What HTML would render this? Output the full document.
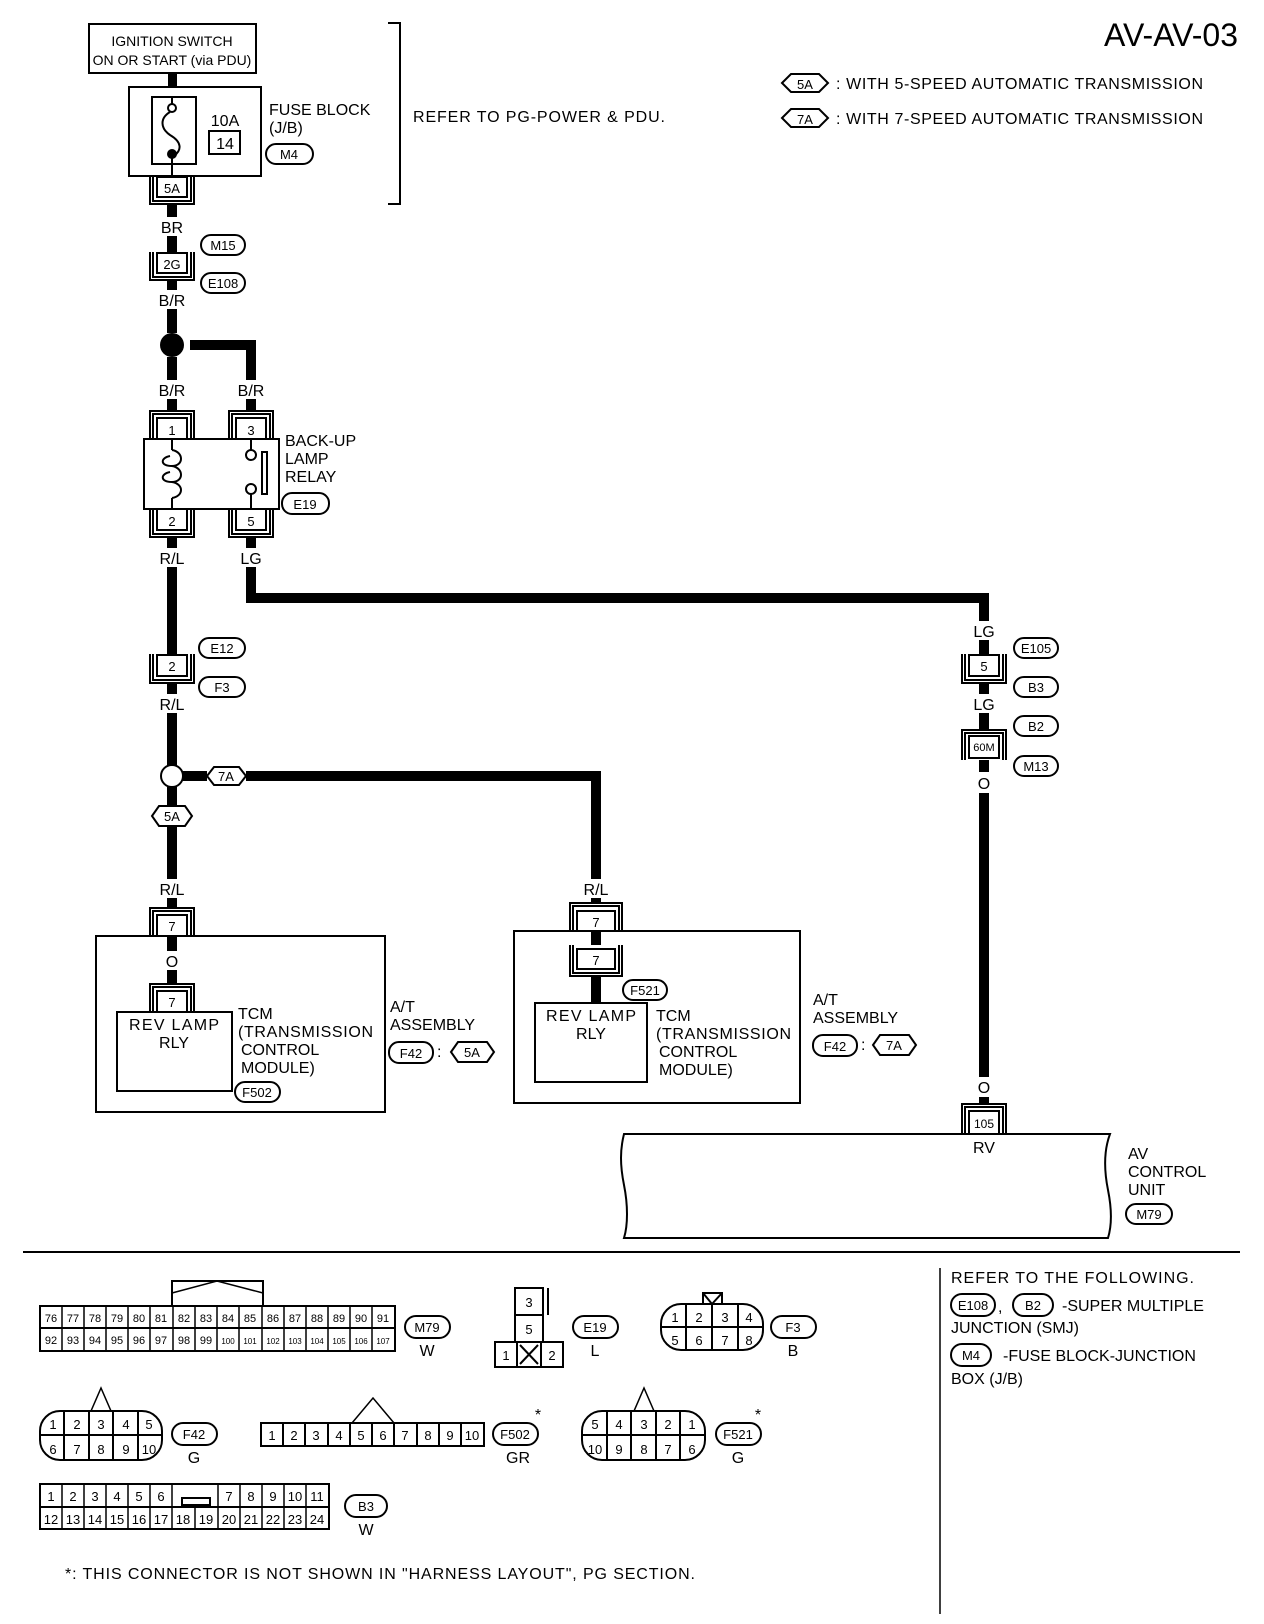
<!DOCTYPE html>
<html><head><meta charset="utf-8"><style>
html,body{margin:0;padding:0;background:#fff}
svg{display:block}
text{font-family:"Liberation Sans",sans-serif;font-size:16px;fill:#000}
.c{text-anchor:middle}
.s{font-size:13px}
</style></head><body>
<svg width="1264" height="1624" viewBox="0 0 1264 1624" xmlns="http://www.w3.org/2000/svg">
<text x="1238" y="46" style="font-size:32px;text-anchor:end">AV-AV-03</text>
<!-- legend -->
<g fill="none" stroke="#000" stroke-width="2">
<polygon points="782,83 791,74 819,74 828,83 819,92 791,92"/>
<polygon points="782,118 791,109 819,109 828,118 819,127 791,127"/>
</g>
<text x="805" y="89" class="c s">5A</text><text x="805" y="124" class="c s">7A</text>
<text x="836" y="89" textLength="367">: WITH 5-SPEED AUTOMATIC TRANSMISSION</text>
<text x="836" y="124" textLength="367">: WITH 7-SPEED AUTOMATIC TRANSMISSION</text>

<!-- ignition -->
<g fill="none" stroke="#000" stroke-width="2">
<rect x="89" y="24" width="167" height="49"/>
<rect x="129" y="87" width="132" height="89"/>
<rect x="152" y="97" width="44" height="67"/>
<rect x="209" y="131" width="31" height="23"/>
<line x1="172" y1="97" x2="172" y2="104"/>
<circle cx="172" cy="108" r="4"/>
<path d="M170,112 C160,118 160,128 170,135 C182,142 182,150 174,156"/>
<line x1="172" y1="156" x2="172" y2="176"/>
<polyline points="388,23 400,23 400,204 388,204"/>
</g>
<circle cx="172" cy="154" r="5" fill="#000"/>
<rect x="168" y="73" width="9" height="14" fill="#000"/>
<text x="172" y="46" class="c" style="font-size:14px">IGNITION SWITCH</text>
<text x="172" y="65" class="c" style="font-size:14px">ON OR START (via PDU)</text>
<text x="225" y="126" class="c">10A</text><text x="225" y="149" class="c">14</text>
<text x="269" y="115">FUSE BLOCK</text><text x="269" y="133">(J/B)</text>
<text x="413" y="122" textLength="252">REFER TO PG-POWER &amp; PDU.</text>

<g fill="none" stroke="#000" stroke-width="2">
<rect x="157" y="177" width="30" height="20"/>
<polyline points="153,176 153,201 191,201 191,176"/><polyline points="150,176 150,204 194,204 194,176"/>
<rect x="157" y="253" width="30" height="20"/>
<polyline points="153,252 153,277 191,277 191,252"/><polyline points="150,252 150,280 194,280 194,252"/>
<rect x="157" y="418" width="30" height="21"/>
<polyline points="153,439 153,414 191,414 191,439"/><polyline points="150,439 150,411 194,411 194,439"/>
<rect x="236" y="418" width="30" height="21"/>
<polyline points="232,439 232,414 270,414 270,439"/><polyline points="229,439 229,411 273,411 273,439"/>
<rect x="144" y="439" width="135" height="70"/>
<rect x="157" y="509" width="30" height="21"/>
<polyline points="153,509 153,534 191,534 191,509"/><polyline points="150,509 150,537 194,537 194,509"/>
<rect x="236" y="509" width="30" height="21"/>
<polyline points="232,509 232,534 270,534 270,509"/><polyline points="229,509 229,537 273,537 273,509"/>
<line x1="172" y1="439" x2="172" y2="450"/>
<path d="M172,450 C184,452 184,466 172,466 C160,466 160,458 170,456 M172,466 C184,468 184,482 172,482 C160,482 160,474 170,472 M172,482 C184,484 184,496 172,498"/>
<line x1="172" y1="498" x2="172" y2="509"/>
<line x1="251" y1="439" x2="251" y2="450"/><circle cx="251" cy="455" r="5"/>
<line x1="251" y1="509" x2="251" y2="494"/><circle cx="251" cy="489" r="5"/>
<rect x="262" y="452" width="5" height="42"/>
<rect x="157" y="655" width="30" height="21"/>
<polyline points="153,654 153,680 191,680 191,654"/><polyline points="150,654 150,683 194,683 194,654"/>
<rect x="969" y="655" width="30" height="21"/>
<polyline points="965,654 965,680 1003,680 1003,654"/><polyline points="962,654 962,683 1006,683 1006,654"/>
<rect x="969" y="736" width="30" height="22"/>
<polyline points="965,760 965,733 1003,733 1003,760"/><polyline points="962,760 962,730 1006,730 1006,760"/>
<circle cx="172" cy="776" r="11"/>
<polygon points="207,776 214,767 239,767 246,776 239,785 214,785"/>
<polygon points="152,816 159,806 185,806 192,816 185,826 159,826"/>
<rect x="157" y="915" width="30" height="21"/>
<polyline points="153,936 153,911 191,911 191,936"/><polyline points="150,936 150,908 194,908 194,936"/>
<rect x="96" y="936" width="289" height="176"/>
<rect x="157" y="991" width="30" height="21"/>
<polyline points="153,1012 153,987 191,987 191,1012"/><polyline points="150,1012 150,984 194,984 194,1012"/>
<rect x="117" y="1012" width="115" height="79"/>
<rect x="577" y="911" width="38" height="20"/>
<polyline points="573,931 573,906 619,906 619,931"/><polyline points="570,931 570,903 622,903 622,931"/>
<rect x="514" y="931" width="286" height="172"/>
<rect x="577" y="949" width="38" height="20"/>
<polyline points="573,945 573,973 619,973 619,945"/><polyline points="570,945 570,976 622,976 622,945"/>
<rect x="535" y="1003" width="112" height="79"/>
<rect x="969" y="1111" width="30" height="23"/>
<polyline points="965,1134 965,1107 1003,1107 1003,1134"/><polyline points="962,1134 962,1104 1006,1104 1006,1134"/>
<path d="M624,1134 L1110,1134 C1104,1150 1104,1170 1108,1190 C1112,1210 1112,1225 1108,1238 L624,1238 C628,1225 628,1205 624,1185 C620,1165 620,1150 624,1134 Z"/>
<rect x="266" y="144" width="47" height="20" rx="10"/>
<rect x="201" y="235" width="44" height="20" rx="10"/>
<rect x="201" y="273" width="44" height="20" rx="10"/>
<rect x="282" y="493" width="47" height="21" rx="10"/>
<rect x="199" y="638" width="46" height="20" rx="10"/>
<rect x="199" y="677" width="46" height="20" rx="10"/>
<rect x="1014" y="638" width="44" height="20" rx="10"/>
<rect x="1014" y="677" width="44" height="20" rx="10"/>
<rect x="1014" y="716" width="44" height="20" rx="10"/>
<rect x="1014" y="756" width="44" height="20" rx="10"/>
<rect x="235" y="1082" width="45" height="20" rx="10"/>
<rect x="623" y="980" width="44" height="20" rx="10"/>
<rect x="389" y="1042" width="44" height="21" rx="10"/>
<polygon points="451,1052 458,1042 487,1042 494,1052 487,1062 458,1062"/>
<rect x="813" y="1035" width="44" height="21" rx="10"/>
<polygon points="873,1045 880,1035 909,1035 916,1045 909,1055 880,1055"/>
<rect x="1126" y="1204" width="46" height="20" rx="10"/>
</g>
<circle cx="172" cy="345" r="12" fill="#000"/>
<g stroke="#000" stroke-width="10" fill="none">
<line x1="172" y1="204" x2="172" y2="217"/>
<line x1="172" y1="236" x2="172" y2="252"/>
<line x1="172" y1="280" x2="172" y2="290"/>
<line x1="172" y1="309" x2="172" y2="333"/>
<line x1="172" y1="357" x2="172" y2="380"/>
<line x1="172" y1="399" x2="172" y2="411"/>
<polyline points="190,345 251,345 251,380"/>
<line x1="251" y1="399" x2="251" y2="411"/>
<line x1="172" y1="537" x2="172" y2="548"/>
<line x1="251" y1="537" x2="251" y2="548"/>
<polyline points="251,567 251,598 984,598 984,621"/>
<line x1="172" y1="567" x2="172" y2="654"/>
<line x1="172" y1="683" x2="172" y2="694"/>
<line x1="172" y1="713" x2="172" y2="765"/>
<line x1="172" y1="787" x2="172" y2="806"/>
<line x1="172" y1="826" x2="172" y2="879"/>
<line x1="172" y1="898" x2="172" y2="908"/>
<line x1="172" y1="936" x2="172" y2="951"/>
<line x1="172" y1="970" x2="172" y2="984"/>
<line x1="183" y1="776" x2="207" y2="776"/>
<polyline points="246,776 596,776 596,879"/>
<line x1="596" y1="898" x2="596" y2="903"/>
<line x1="596" y1="931" x2="596" y2="945"/>
<line x1="596" y1="976" x2="596" y2="1003"/>
<line x1="984" y1="640" x2="984" y2="654"/>
<line x1="984" y1="683" x2="984" y2="694"/>
<line x1="984" y1="713" x2="984" y2="730"/>
<line x1="984" y1="760" x2="984" y2="772"/>
<line x1="984" y1="793" x2="984" y2="1077"/>
<line x1="984" y1="1097" x2="984" y2="1104"/>
</g>
<text x="172" y="193" class="c s">5A</text>
<text x="172" y="233" class="c">BR</text>
<text x="172" y="269" class="c s">2G</text>
<text x="172" y="306" class="c">B/R</text>
<text x="172" y="396" class="c">B/R</text><text x="251" y="396" class="c">B/R</text>
<text x="172" y="435" class="c s">1</text><text x="251" y="435" class="c s">3</text>
<text x="172" y="526" class="c s">2</text><text x="251" y="526" class="c s">5</text>
<text x="285" y="446">BACK-UP</text><text x="285" y="464">LAMP</text><text x="285" y="482">RELAY</text>
<text x="172" y="564" class="c">R/L</text><text x="251" y="564" class="c">LG</text>
<text x="172" y="671" class="c s">2</text>
<text x="172" y="710" class="c">R/L</text>
<text x="984" y="637" class="c">LG</text>
<text x="984" y="671" class="c s">5</text>
<text x="984" y="710" class="c">LG</text>
<text x="984" y="751" class="c" style="font-size:11px">60M</text>
<text x="984" y="789" class="c">O</text>
<text x="984" y="1093" class="c">O</text>
<text x="984" y="1128" class="c" style="font-size:12px">105</text>
<text x="984" y="1153" class="c">RV</text>
<text x="1128" y="1159">AV</text><text x="1128" y="1177">CONTROL</text><text x="1128" y="1195">UNIT</text>
<text x="226" y="781" class="c s">7A</text><text x="172" y="821" class="c s">5A</text>
<text x="172" y="895" class="c">R/L</text><text x="596" y="895" class="c">R/L</text>
<text x="172" y="931" class="c s">7</text><text x="172" y="967" class="c">O</text>
<text x="172" y="1007" class="c s">7</text>
<text x="174" y="1030" class="c" textLength="90">REV LAMP</text><text x="174" y="1048" class="c">RLY</text>
<text x="238" y="1019">TCM</text><text x="238" y="1037" textLength="135">(TRANSMISSION</text>
<text x="241" y="1055">CONTROL</text><text x="241" y="1073">MODULE)</text>
<text x="390" y="1012">A/T</text><text x="390" y="1030">ASSEMBLY</text>
<text x="596" y="927" class="c s">7</text><text x="596" y="965" class="c s">7</text>
<text x="591" y="1021" class="c" textLength="90">REV LAMP</text><text x="591" y="1039" class="c">RLY</text>
<text x="656" y="1021">TCM</text><text x="656" y="1039" textLength="135">(TRANSMISSION</text>
<text x="659" y="1057">CONTROL</text><text x="659" y="1075">MODULE)</text>
<text x="813" y="1005">A/T</text><text x="813" y="1023">ASSEMBLY</text>
<text x="437" y="1057">:</text><text x="861" y="1050">:</text>
<text x="289" y="159" class="c s">M4</text>
<text x="223" y="250" class="c s">M15</text>
<text x="223" y="288" class="c s">E108</text>
<text x="305" y="509" class="c s">E19</text>
<text x="222" y="653" class="c s">E12</text>
<text x="222" y="692" class="c s">F3</text>
<text x="1036" y="653" class="c s">E105</text>
<text x="1036" y="692" class="c s">B3</text>
<text x="1036" y="731" class="c s">B2</text>
<text x="1036" y="771" class="c s">M13</text>
<text x="257" y="1097" class="c s">F502</text>
<text x="645" y="995" class="c s">F521</text>
<text x="411" y="1058" class="c s">F42</text>
<text x="472" y="1057" class="c s">5A</text>
<text x="835" y="1051" class="c s">F42</text>
<text x="894" y="1050" class="c s">7A</text>
<text x="1149" y="1219" class="c s">M79</text>

<line x1="23" y1="1252" x2="1240" y2="1252" stroke="#000" stroke-width="2"/>
<line x1="940" y1="1268" x2="940" y2="1614" stroke="#000" stroke-width="1.5"/>
<text x="951" y="1283" textLength="243">REFER TO THE FOLLOWING.</text>
<g fill="none" stroke="#000" stroke-width="2">
<rect x="951" y="1294" width="44" height="22" rx="11"/>
<rect x="1013" y="1294" width="40" height="22" rx="11"/>
<rect x="951" y="1344" width="40" height="22" rx="11"/>
</g>
<text x="973" y="1310" class="c s">E108</text><text x="998" y="1312">,</text>
<text x="1033" y="1310" class="c s">B2</text>
<text x="1062" y="1311">-SUPER MULTIPLE</text>
<text x="951" y="1333">JUNCTION (SMJ)</text>
<text x="971" y="1360" class="c s">M4</text>
<text x="1003" y="1361">-FUSE BLOCK-JUNCTION</text>
<text x="951" y="1384">BOX (J/B)</text>

<!-- M79 connector -->
<g fill="none" stroke="#000" stroke-width="2">
<polyline points="172,1306 172,1281 263,1281 263,1306"/>
<polyline points="172,1293 217,1281 263,1293" stroke-width="1.5"/>
<rect x="40" y="1306" width="355" height="45"/>
<line x1="40" y1="1328" x2="395" y2="1328"/>
</g>
<g stroke="#000" stroke-width="1.5">
<line x1="62" y1="1306" x2="62" y2="1351"/><line x1="84" y1="1306" x2="84" y2="1351"/><line x1="106" y1="1306" x2="106" y2="1351"/><line x1="128" y1="1306" x2="128" y2="1351"/><line x1="150" y1="1306" x2="150" y2="1351"/><line x1="173" y1="1306" x2="173" y2="1351"/><line x1="195" y1="1306" x2="195" y2="1351"/><line x1="217" y1="1306" x2="217" y2="1351"/><line x1="239" y1="1306" x2="239" y2="1351"/><line x1="262" y1="1306" x2="262" y2="1351"/><line x1="284" y1="1306" x2="284" y2="1351"/><line x1="306" y1="1306" x2="306" y2="1351"/><line x1="328" y1="1306" x2="328" y2="1351"/><line x1="350" y1="1306" x2="350" y2="1351"/><line x1="372" y1="1306" x2="372" y2="1351"/>
</g>
<g>
<text x="51" y="1322" class="c" style="font-size:11px">76</text><text x="73" y="1322" class="c" style="font-size:11px">77</text><text x="95" y="1322" class="c" style="font-size:11px">78</text><text x="117" y="1322" class="c" style="font-size:11px">79</text><text x="139" y="1322" class="c" style="font-size:11px">80</text><text x="161" y="1322" class="c" style="font-size:11px">81</text><text x="184" y="1322" class="c" style="font-size:11px">82</text><text x="206" y="1322" class="c" style="font-size:11px">83</text><text x="228" y="1322" class="c" style="font-size:11px">84</text><text x="250" y="1322" class="c" style="font-size:11px">85</text><text x="273" y="1322" class="c" style="font-size:11px">86</text><text x="295" y="1322" class="c" style="font-size:11px">87</text><text x="317" y="1322" class="c" style="font-size:11px">88</text><text x="339" y="1322" class="c" style="font-size:11px">89</text><text x="361" y="1322" class="c" style="font-size:11px">90</text><text x="383" y="1322" class="c" style="font-size:11px">91</text>
<text x="51" y="1344" class="c" style="font-size:11px">92</text><text x="73" y="1344" class="c" style="font-size:11px">93</text><text x="95" y="1344" class="c" style="font-size:11px">94</text><text x="117" y="1344" class="c" style="font-size:11px">95</text><text x="139" y="1344" class="c" style="font-size:11px">96</text><text x="161" y="1344" class="c" style="font-size:11px">97</text><text x="184" y="1344" class="c" style="font-size:11px">98</text><text x="206" y="1344" class="c" style="font-size:11px">99</text><text x="228" y="1344" class="c" style="font-size:8px">100</text><text x="250" y="1344" class="c" style="font-size:8px">101</text><text x="273" y="1344" class="c" style="font-size:8px">102</text><text x="295" y="1344" class="c" style="font-size:8px">103</text><text x="317" y="1344" class="c" style="font-size:8px">104</text><text x="339" y="1344" class="c" style="font-size:8px">105</text><text x="361" y="1344" class="c" style="font-size:8px">106</text><text x="383" y="1344" class="c" style="font-size:8px">107</text>
</g>
<rect x="405" y="1316" width="45" height="22" rx="11" fill="none" stroke="#000" stroke-width="2"/>
<text x="427" y="1332" class="c s">M79</text><text x="427" y="1356" class="c">W</text>

<!-- E19 connector -->
<g fill="none" stroke="#000" stroke-width="2">
<rect x="515" y="1288" width="28" height="27"/><line x1="548" y1="1288" x2="548" y2="1315"/>
<rect x="515" y="1315" width="28" height="27"/>
<rect x="495" y="1342" width="68" height="25"/>
<line x1="517" y1="1342" x2="517" y2="1367"/><line x1="541" y1="1342" x2="541" y2="1367"/>
<line x1="520" y1="1345" x2="538" y2="1364"/><line x1="538" y1="1345" x2="520" y2="1364"/>
<rect x="573" y="1316" width="45" height="22" rx="11"/>
</g>
<text x="529" y="1307" class="c s">3</text><text x="529" y="1334" class="c s">5</text>
<text x="506" y="1360" class="c s">1</text><text x="552" y="1360" class="c s">2</text>
<text x="595" y="1332" class="c s">E19</text><text x="595" y="1356" class="c">L</text>

<!-- F3 connector -->
<g fill="none" stroke="#000" stroke-width="2">
<rect x="661" y="1304" width="102" height="46" rx="20"/>
<line x1="661" y1="1327" x2="763" y2="1327"/>
<line x1="686" y1="1304" x2="686" y2="1350"/><line x1="712" y1="1304" x2="712" y2="1350"/><line x1="738" y1="1304" x2="738" y2="1350"/>
<rect x="703" y="1293" width="19" height="11"/><polyline points="703,1293 712,1304 722,1293"/>
<rect x="771" y="1316" width="45" height="22" rx="11"/>
</g>
<text x="675" y="1322" class="c s">1</text><text x="699" y="1322" class="c s">2</text><text x="725" y="1322" class="c s">3</text><text x="749" y="1322" class="c s">4</text>
<text x="675" y="1345" class="c s">5</text><text x="699" y="1345" class="c s">6</text><text x="725" y="1345" class="c s">7</text><text x="749" y="1345" class="c s">8</text>
<text x="793" y="1332" class="c s">F3</text><text x="793" y="1356" class="c">B</text>

<!-- F42 -->
<g fill="none" stroke="#000" stroke-width="2">
<rect x="40" y="1411" width="122" height="49" rx="20"/>
<line x1="40" y1="1435" x2="162" y2="1435"/>
<line x1="64" y1="1411" x2="64" y2="1460"/><line x1="89" y1="1411" x2="89" y2="1460"/><line x1="113" y1="1411" x2="113" y2="1460"/><line x1="138" y1="1411" x2="138" y2="1460"/>
<polyline points="91,1411 101,1388 111,1411" stroke-width="1.5"/>
<rect x="172" y="1423" width="45" height="22" rx="11"/>
</g>
<text x="53" y="1429" class="c s">1</text><text x="77" y="1429" class="c s">2</text><text x="101" y="1429" class="c s">3</text><text x="126" y="1429" class="c s">4</text><text x="149" y="1429" class="c s">5</text>
<text x="53" y="1454" class="c s">6</text><text x="77" y="1454" class="c s">7</text><text x="101" y="1454" class="c s">8</text><text x="126" y="1454" class="c s">9</text><text x="149" y="1454" class="c s">10</text>
<text x="194" y="1439" class="c s">F42</text><text x="194" y="1463" class="c">G</text>

<!-- F502 -->
<g fill="none" stroke="#000" stroke-width="2">
<rect x="261" y="1423" width="223" height="23"/>
<line x1="283" y1="1423" x2="283" y2="1446"/><line x1="305" y1="1423" x2="305" y2="1446"/><line x1="328" y1="1423" x2="328" y2="1446"/><line x1="350" y1="1423" x2="350" y2="1446"/><line x1="372" y1="1423" x2="372" y2="1446"/><line x1="394" y1="1423" x2="394" y2="1446"/><line x1="417" y1="1423" x2="417" y2="1446"/><line x1="439" y1="1423" x2="439" y2="1446"/><line x1="461" y1="1423" x2="461" y2="1446"/>
<polyline points="352,1423 373,1398 394,1423" stroke-width="1.5"/>
<rect x="493" y="1423" width="45" height="22" rx="11"/>
</g>
<text x="272" y="1440" class="c s">1</text><text x="294" y="1440" class="c s">2</text><text x="316" y="1440" class="c s">3</text><text x="339" y="1440" class="c s">4</text><text x="361" y="1440" class="c s">5</text><text x="383" y="1440" class="c s">6</text><text x="405" y="1440" class="c s">7</text><text x="428" y="1440" class="c s">8</text><text x="450" y="1440" class="c s">9</text><text x="472" y="1440" class="c s">10</text>
<text x="515" y="1439" class="c s">F502</text><text x="518" y="1463" class="c">GR</text><text x="538" y="1420" class="c">*</text>

<!-- F521 -->
<g fill="none" stroke="#000" stroke-width="2">
<rect x="582" y="1411" width="123" height="49" rx="20"/>
<line x1="582" y1="1435" x2="705" y2="1435"/>
<line x1="607" y1="1411" x2="607" y2="1460"/><line x1="631" y1="1411" x2="631" y2="1460"/><line x1="656" y1="1411" x2="656" y2="1460"/><line x1="680" y1="1411" x2="680" y2="1460"/>
<polyline points="634,1411 644,1388 654,1411" stroke-width="1.5"/>
<rect x="716" y="1423" width="45" height="22" rx="11"/>
</g>
<text x="595" y="1429" class="c s">5</text><text x="619" y="1429" class="c s">4</text><text x="644" y="1429" class="c s">3</text><text x="668" y="1429" class="c s">2</text><text x="692" y="1429" class="c s">1</text>
<text x="595" y="1454" class="c s">10</text><text x="619" y="1454" class="c s">9</text><text x="644" y="1454" class="c s">8</text><text x="668" y="1454" class="c s">7</text><text x="692" y="1454" class="c s">6</text>
<text x="738" y="1439" class="c s">F521</text><text x="738" y="1463" class="c">G</text><text x="758" y="1420" class="c">*</text>

<!-- B3 -->
<g fill="none" stroke="#000" stroke-width="2">
<rect x="40" y="1484" width="289" height="45"/>
<line x1="40" y1="1507" x2="329" y2="1507"/>
<rect x="182" y="1498" width="28" height="7"/>
</g>
<g stroke="#000" stroke-width="1.5">
<line x1="62" y1="1484" x2="62" y2="1529"/><line x1="84" y1="1484" x2="84" y2="1529"/><line x1="106" y1="1484" x2="106" y2="1529"/><line x1="128" y1="1484" x2="128" y2="1529"/><line x1="150" y1="1484" x2="150" y2="1529"/><line x1="172" y1="1484" x2="172" y2="1529"/><line x1="218" y1="1484" x2="218" y2="1529"/><line x1="240" y1="1484" x2="240" y2="1529"/><line x1="262" y1="1484" x2="262" y2="1529"/><line x1="284" y1="1484" x2="284" y2="1529"/><line x1="306" y1="1484" x2="306" y2="1529"/>
<line x1="195" y1="1507" x2="195" y2="1529"/>
</g>
<g>
<text x="51" y="1501" class="c s">1</text><text x="73" y="1501" class="c s">2</text><text x="95" y="1501" class="c s">3</text><text x="117" y="1501" class="c s">4</text><text x="139" y="1501" class="c s">5</text><text x="161" y="1501" class="c s">6</text><text x="229" y="1501" class="c s">7</text><text x="251" y="1501" class="c s">8</text><text x="273" y="1501" class="c s">9</text><text x="295" y="1501" class="c s">10</text><text x="317" y="1501" class="c s">11</text>
<text x="51" y="1524" class="c s">12</text><text x="73" y="1524" class="c s">13</text><text x="95" y="1524" class="c s">14</text><text x="117" y="1524" class="c s">15</text><text x="139" y="1524" class="c s">16</text><text x="161" y="1524" class="c s">17</text><text x="183" y="1524" class="c s">18</text><text x="206" y="1524" class="c s">19</text><text x="229" y="1524" class="c s">20</text><text x="251" y="1524" class="c s">21</text><text x="273" y="1524" class="c s">22</text><text x="295" y="1524" class="c s">23</text><text x="317" y="1524" class="c s">24</text>
</g>
<rect x="345" y="1495" width="42" height="22" rx="11" fill="none" stroke="#000" stroke-width="2"/>
<text x="366" y="1511" class="c s">B3</text><text x="366" y="1535" class="c">W</text>

<text x="65" y="1579" textLength="630">*: THIS CONNECTOR IS NOT SHOWN IN "HARNESS LAYOUT", PG SECTION.</text>
</svg>
</body></html>
